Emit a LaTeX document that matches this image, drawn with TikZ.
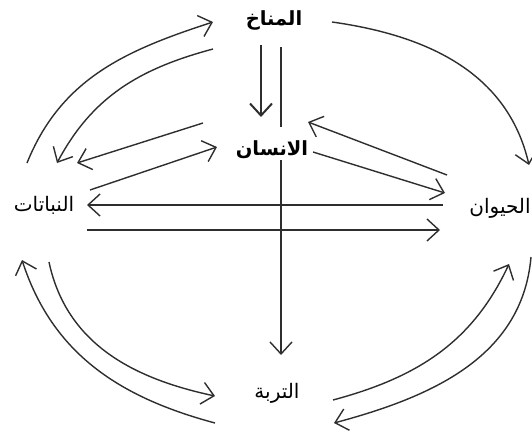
\documentclass[tikz,border=0pt]{standalone}
\usepackage{fontspec}
\usepackage{tikz}
\usetikzlibrary{arrows.meta}
\newfontfamily\arabicfont[Script=Arabic]{DejaVu Sans}
\TeXXeTstate=1
\definecolor{ink}{HTML}{2E2E2E}

\begin{document}
\begin{tikzpicture}[x=1pt, y=1pt, >={Straight Barb[length=12pt,width=22pt]},
  line width=1.4pt, draw=ink,
  lbl/.style={font=\arabicfont\fontsize{20}{24}\selectfont, inner sep=1pt},
  bold/.style={lbl, font=\arabicfont\bfseries\fontsize{19.5}{24}\selectfont}]
\useasboundingbox (0,0) rectangle (532,-436);
\node[bold] (climate) at (274,-20) {\beginR المناخ\endR};
\node[bold] (human) at (272,-150) {\beginR الانسان\endR};
\node[lbl] (plants) at (44,-205) {\beginR النباتات\endR};
\node[lbl] (animal) at (500,-208) {\beginR الحيوان\endR};
\node[lbl] (soil) at (277,-393) {\beginR التربة\endR};
\draw[->, line width=2pt] ([shift={(-13,-25)}]climate.center) -- ([shift={(-11,33)}]human.center);
\draw[line width=2pt] ([shift={(7,-27)}]climate.center) -- ([shift={(9,23)}]human.center);
\draw[->] ([shift={(9,-10)}]human.center) -- ([shift={(4,38)}]soil.center);
\draw[->] ([shift={(-17,42)}]plants.center) to[out=68, in=198] ([shift={(-61,-2)}]climate.center);
\draw[->] ([shift={(-61,-29)}]climate.center) to[out=195, in=62] ([shift={(13,42)}]plants.center);
\draw[->] ([shift={(58,-2)}]climate.center) to[out=-8, in=103] ([shift={(29,43)}]animal.center);
\draw[->] ([shift={(-69,27)}]human.center) -- ([shift={(33,42)}]plants.center);
\draw[->] ([shift={(46,15)}]plants.center) -- ([shift={(-55,3)}]human.center);
\draw[->] ([shift={(-53,33)}]animal.center) -- ([shift={(36,28)}]human.center);
\draw[->] ([shift={(41,-2)}]human.center) -- ([shift={(-55,15)}]animal.center);
\draw[->] ([shift={(-57,3)}]animal.center) -- ([shift={(43,0)}]plants.center);
\draw[->] ([shift={(43,-25)}]plants.center) -- ([shift={(-60,-22)}]animal.center);
\draw[->] ([shift={(5,-57)}]plants.center) to[out=-78, in=168] ([shift={(-62,-3)}]soil.center);
\draw[->] ([shift={(-62,-30)}]soil.center) to[out=165, in=-72] ([shift={(-22,-55)}]plants.center);
\draw[->] ([shift={(56,-7)}]soil.center) to[out=15, in=245] ([shift={(9,-56)}]animal.center);
\draw[->] ([shift={(31,-49)}]animal.center) to[out=-95, in=15] ([shift={(57,-30)}]soil.center);
\end{tikzpicture}
\end{document}
